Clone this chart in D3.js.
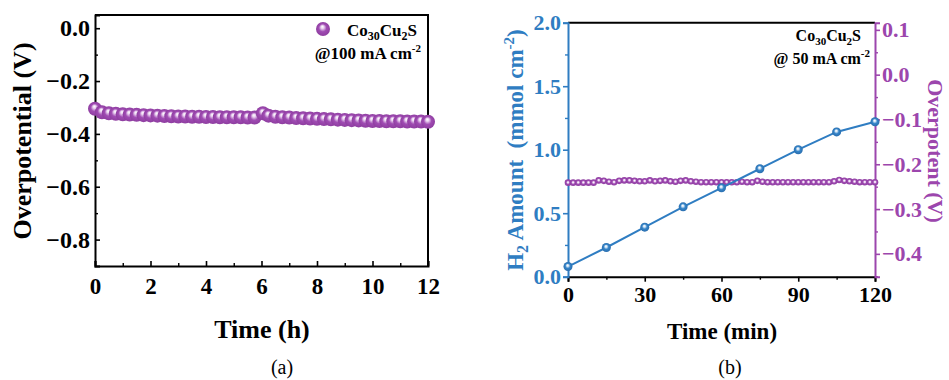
<!DOCTYPE html>
<html>
<head>
<meta charset="utf-8">
<script src="https://cdn.jsdelivr.net/npm/d3@7"></script>
<style>
  html, body { margin: 0; padding: 0; background: #fff; }
  svg { display: block; font-family: "Liberation Serif", "Times New Roman", serif; }
</style>
</head>
<body>
<svg id="chart" width="949" height="380"></svg>
<script>
// ---- Panel (a): stability test at 100 mA cm-2 ----
const hoursA = [0, 0.25, 0.5, 0.75, 1, 1.25, 1.5, 1.75, 2, 2.25, 2.5, 2.75, 3, 3.25, 3.5, 3.75,
  4, 4.25, 4.5, 4.75, 5, 5.25, 5.5, 5.75, 6.05, 6.25, 6.5, 6.75, 7, 7.25, 7.5, 7.75,
  8, 8.25, 8.5, 8.75, 9, 9.25, 9.5, 9.75, 10, 10.25, 10.5, 10.75, 11, 11.25, 11.5, 11.75, 12];
const overpotA = [-0.305, -0.318, -0.322, -0.324, -0.326, -0.327, -0.328, -0.329, -0.330, -0.331,
  -0.332, -0.333, -0.334, -0.334, -0.335, -0.335, -0.336, -0.336, -0.337, -0.337, -0.337, -0.337,
  -0.338, -0.338, -0.322, -0.331, -0.335, -0.337, -0.338, -0.340, -0.341, -0.342, -0.343, -0.344,
  -0.345, -0.346, -0.347, -0.348, -0.349, -0.350, -0.351, -0.351, -0.352, -0.352, -0.352, -0.353,
  -0.353, -0.353, -0.354];
const ticksAx = [0, 2, 4, 6, 8, 10, 12];
const minorAx = [1, 3, 5, 7, 9, 11];
const ticksAy = [0, -0.2, -0.4, -0.6, -0.8];
const minorAy = [-0.1, -0.3, -0.5, -0.7];

// ---- Panel (b): H2 yield and overpotential at 50 mA cm-2 ----
const minutesH2 = [0, 15, 30, 45, 60, 75, 90, 105, 120];
const h2Amount = [0.08, 0.23, 0.39, 0.55, 0.70, 0.85, 1.00, 1.14, 1.22];
const minutesB = [0, 2, 4, 6, 8, 10, 12, 14, 16, 18, 20, 22, 24, 26, 28, 30, 32, 34, 36, 38, 40,
  42, 44, 46, 48, 50, 52, 54, 56, 58, 60, 62, 64, 66, 68, 70, 72, 74, 76, 78, 80, 82, 84, 86, 88,
  90, 92, 94, 96, 98, 100, 102, 104, 106, 108, 110, 112, 114, 116, 118, 120];
const overpotB = [-0.241, -0.241, -0.241, -0.241, -0.241, -0.241, -0.236, -0.237, -0.239, -0.240,
  -0.237, -0.236, -0.236, -0.237, -0.238, -0.238, -0.236, -0.238, -0.237, -0.236, -0.238,
  -0.239, -0.237, -0.236, -0.238, -0.239, -0.240, -0.240, -0.240, -0.240, -0.240, -0.240,
  -0.240, -0.240, -0.239, -0.240, -0.240, -0.237, -0.239, -0.240, -0.240, -0.240, -0.240,
  -0.240, -0.240, -0.240, -0.240, -0.240, -0.240, -0.240, -0.240, -0.240, -0.238, -0.235,
  -0.237, -0.238, -0.239, -0.240, -0.240, -0.240, -0.240];
const ticksBx = [0, 30, 60, 90, 120];
const minorBx = [15, 45, 75, 105];
const ticksBh2 = [0, 0.5, 1.0, 1.5, 2.0];
const minorBh2 = [0.25, 0.75, 1.25, 1.75];
const ticksBv = [0.1, 0, -0.1, -0.2, -0.3, -0.4];
const minorBv = [0.05, -0.05, -0.15, -0.25, -0.35, -0.45];

const PURPLE = "#9c46ad";
const BLUE = "#2f7dc2";
const FONT = '"Liberation Serif", "Times New Roman", serif';

const svg = d3.select("#chart");
const defs = svg.append("defs");

// shaded sphere fill for the markers
function sphereGradient(id, light, mid, dark, fx, fy) {
  const g = defs.append("radialGradient").attr("id", id)
    .attr("cx", 0.5).attr("cy", 0.5).attr("r", 0.5).attr("fx", fx).attr("fy", fy);
  g.append("stop").attr("offset", "0%").attr("stop-color", "#ffffff");
  g.append("stop").attr("offset", "22%").attr("stop-color", light);
  g.append("stop").attr("offset", "55%").attr("stop-color", mid);
  g.append("stop").attr("offset", "100%").attr("stop-color", dark);
}
sphereGradient("gPurple", "#ead3f0", "#a04cb3", "#8e3da0", 0.45, 0.32);
sphereGradient("gPurpleSmall", "#efdcf3", "#a04cb3", "#8e3da0", 0.5, 0.45);
sphereGradient("gBlue", "#d6e7f6", "#3584c8", "#2a6eae", 0.45, 0.35);

function styleAxis(g, color, width) {
  g.select(".domain").attr("stroke", color).attr("stroke-width", width);
  g.selectAll(".tick line").attr("stroke", color).attr("stroke-width", 1.6);
  g.selectAll(".tick text").attr("fill", color).attr("font-family", FONT).attr("font-weight", "bold");
}
function minorStyle(color) {
  return g => { g.select(".domain").remove(); g.selectAll("line").attr("stroke", color).attr("stroke-width", 1.4); };
}

// ================= Panel (a) =================
const ax = d3.scaleLinear().domain([0, 12]).range([95, 428]);
const ay = d3.scaleLinear().domain([-0.9, 0.05]).range([266, 15]);
const fmt1 = d3.format(".1f");

const pa = svg.append("g");

pa.append("g").attr("transform", "translate(0,266)")
  .call(d3.axisBottom(ax).tickValues(minorAx).tickSize(-3).tickFormat(""))
  .call(minorStyle("#000"));
pa.append("g").attr("transform", "translate(95,0)")
  .call(d3.axisLeft(ay).tickValues(minorAy).tickSize(-3).tickFormat(""))
  .call(minorStyle("#000"));

const axB = pa.append("g").attr("transform", "translate(0,266)")
  .call(d3.axisBottom(ax).tickValues(ticksAx).tickSize(-5).tickPadding(12).tickFormat(d3.format("d")));
styleAxis(axB, "#000", 2);
axB.selectAll(".tick text").attr("font-size", 23);

const ayL = pa.append("g").attr("transform", "translate(95,0)")
  .call(d3.axisLeft(ay).tickValues(ticksAy).tickSize(-5).tickPadding(5).tickFormat(fmt1));
styleAxis(ayL, "#000", 2);
ayL.selectAll(".tick text").attr("font-size", 24);

// top and right frame
pa.append("path").attr("d", "M95,15H428V266").attr("fill", "none").attr("stroke", "#000").attr("stroke-width", 2);

// markers
pa.append("g").selectAll("circle").data(hoursA.map((h, i) => [h, overpotA[i]]))
  .join("circle")
  .attr("cx", d => ax(d[0])).attr("cy", d => ay(d[1])).attr("r", 7)
  .attr("fill", "url(#gPurple)");

// legend
pa.append("circle").attr("cx", 323).attr("cy", 29).attr("r", 7).attr("fill", "url(#gPurple)");
const legA = pa.append("text").attr("x", 347).attr("y", 36).attr("font-size", 17).attr("font-weight", "bold").attr("fill", "#000");
legA.append("tspan").text("Co");
legA.append("tspan").attr("font-size", 12).attr("dy", 4).text("30");
legA.append("tspan").attr("dy", -4).text("Cu");
legA.append("tspan").attr("font-size", 12).attr("dy", 4).text("2");
legA.append("tspan").attr("dy", -4).text("S");
const legA2 = pa.append("text").attr("x", 421).attr("y", 59).attr("text-anchor", "end")
  .attr("font-size", 17).attr("font-weight", "bold").attr("fill", "#000");
legA2.append("tspan").text("@100 mA cm");
legA2.append("tspan").attr("font-size", 11).attr("dy", -7).text("-2");

// titles
pa.append("text").attr("transform", "translate(31,141) rotate(-90)").attr("text-anchor", "middle")
  .attr("font-size", 26).attr("font-weight", "bold").text("Overpotential (V)");
pa.append("text").attr("x", 262).attr("y", 338).attr("text-anchor", "middle")
  .attr("font-size", 26).attr("font-weight", "bold").text("Time (h)");
pa.append("text").attr("x", 282).attr("y", 374).attr("text-anchor", "middle")
  .attr("font-size", 20).text("(a)");

// ================= Panel (b) =================
const bx = d3.scaleLinear().domain([0, 120]).range([568, 875]);
const byL = d3.scaleLinear().domain([0, 2]).range([276.7, 22.7]);
const byR = d3.scaleLinear().domain([-0.451, 0.116]).range([276.7, 22.7]);

const pb = svg.append("g");

pb.append("g").attr("transform", "translate(0,276.7)")
  .call(d3.axisBottom(bx).tickValues(minorBx).tickSize(3).tickFormat(""))
  .call(minorStyle("#000"));
pb.append("g").attr("transform", "translate(568,0)")
  .call(d3.axisLeft(byL).tickValues(minorBh2).tickSize(3).tickFormat(""))
  .call(minorStyle(BLUE));
pb.append("g").attr("transform", "translate(875,0)")
  .call(d3.axisRight(byR).tickValues(minorBv).tickSize(3).tickFormat(""))
  .call(minorStyle(PURPLE));

// top frame
pb.append("line").attr("x1", 568).attr("x2", 875).attr("y1", 22.7).attr("y2", 22.7)
  .attr("stroke", "#000").attr("stroke-width", 2);

const bxA = pb.append("g").attr("transform", "translate(0,276.7)")
  .call(d3.axisBottom(bx).tickValues(ticksBx).tickSize(5).tickPadding(5).tickFormat(d3.format("d")));
styleAxis(bxA, "#000", 2);
bxA.selectAll(".tick text").attr("font-size", 22);

const byLA = pb.append("g").attr("transform", "translate(568,0)")
  .call(d3.axisLeft(byL).tickValues(ticksBh2).tickSize(5).tickPadding(2).tickFormat(fmt1));
styleAxis(byLA, BLUE, 2);
byLA.selectAll(".tick text").attr("font-size", 22);

const byRA = pb.append("g").attr("transform", "translate(875,0)")
  .call(d3.axisRight(byR).tickValues(ticksBv).tickSize(5).tickPadding(2).tickFormat(fmt1));
styleAxis(byRA, PURPLE, 2);
byRA.selectAll(".tick text").attr("font-size", 22);

// overpotential trace (small purple markers)
pb.append("g").selectAll("circle").data(minutesB.map((m, i) => [m, overpotB[i]]))
  .join("circle")
  .attr("cx", d => bx(d[0])).attr("cy", d => byR(d[1])).attr("r", 3.3)
  .attr("fill", "url(#gPurpleSmall)");

// H2 amount line + markers
const h2 = minutesH2.map((m, i) => [m, h2Amount[i]]);
pb.append("path").datum(h2)
  .attr("d", d3.line().x(d => bx(d[0])).y(d => byL(d[1])))
  .attr("fill", "none").attr("stroke", BLUE).attr("stroke-width", 2);
pb.append("g").selectAll("circle").data(h2).join("circle")
  .attr("cx", d => bx(d[0])).attr("cy", d => byL(d[1])).attr("r", 4.5)
  .attr("fill", "url(#gBlue)");

// legend text
const legB = pb.append("text").attr("x", 861).attr("y", 41).attr("text-anchor", "end")
  .attr("font-size", 16).attr("font-weight", "bold").attr("fill", "#000");
legB.append("tspan").text("Co");
legB.append("tspan").attr("font-size", 11).attr("dy", 4).text("30");
legB.append("tspan").attr("dy", -4).text("Cu");
legB.append("tspan").attr("font-size", 11).attr("dy", 4).text("2");
legB.append("tspan").attr("dy", -4).text("S");
const legB2 = pb.append("text").attr("x", 870).attr("y", 64).attr("text-anchor", "end")
  .attr("font-size", 16).attr("font-weight", "bold").attr("fill", "#000");
legB2.append("tspan").text("@ 50 mA cm");
legB2.append("tspan").attr("font-size", 11).attr("dy", -7).text("-2");

// titles
const tL = pb.append("text").attr("transform", "translate(523,150) rotate(-90)").attr("text-anchor", "middle")
  .attr("font-size", 23).attr("font-weight", "bold").attr("fill", BLUE);
tL.append("tspan").text("H");
tL.append("tspan").attr("font-size", 16).attr("dy", 5).text("2");
tL.append("tspan").attr("dy", -5).text(" Amount\u00a0 (mmol cm");
tL.append("tspan").attr("font-size", 15).attr("dy", -9).text("-2");
tL.append("tspan").attr("dy", 9).text(")");

pb.append("text").attr("transform", "translate(928,151) rotate(90)").attr("text-anchor", "middle")
  .attr("font-size", 22).attr("font-weight", "bold").attr("fill", PURPLE).text("Overpotent (V)");

pb.append("text").attr("x", 722).attr("y", 339).attr("text-anchor", "middle")
  .attr("font-size", 23).attr("font-weight", "bold").text("Time (min)");
pb.append("text").attr("x", 730).attr("y", 374).attr("text-anchor", "middle")
  .attr("font-size", 20).text("(b)");
</script>
</body>
</html>
